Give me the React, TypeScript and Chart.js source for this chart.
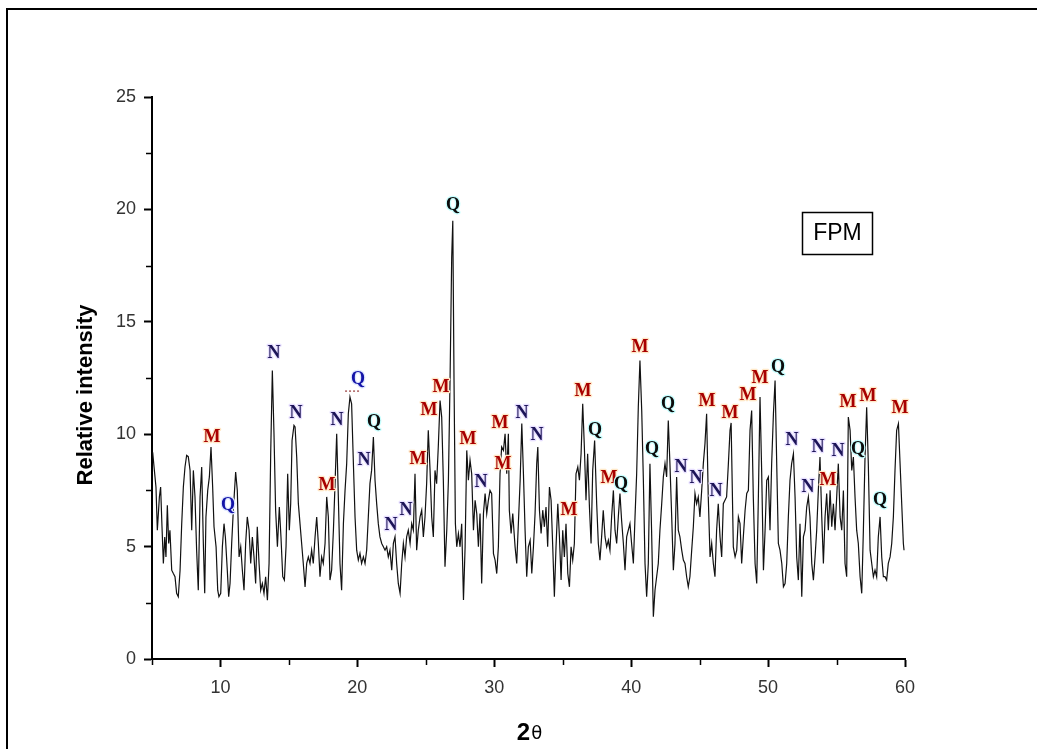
import React, { useEffect, useRef } from "react";
import { Chart, registerables } from "chart.js";

Chart.register(...registerables);

// 2θ positions (degrees)
const twoTheta = [
  5.05, 5.15, 5.29, 5.39, 5.54, 5.63, 5.73, 5.83, 5.93, 6.02, 6.12, 6.22, 6.31, 6.44, 6.56, 6.68, 6.8, 6.92, 7.05, 7.17,
  7.29, 7.41, 7.53, 7.65, 7.78, 7.9, 8.02, 8.14, 8.26, 8.38, 8.51, 8.63, 8.75, 8.85, 8.94, 9.07, 9.19, 9.31, 9.43, 9.53,
  9.68, 9.8, 9.89, 10.02, 10.14, 10.26, 10.36, 10.5, 10.6, 10.7, 10.82, 10.94, 11.11, 11.23, 11.36, 11.48, 11.6, 11.72, 11.84, 11.96,
  12.09, 12.21, 12.33, 12.45, 12.57, 12.69, 12.82, 12.94, 13.06, 13.18, 13.3, 13.43, 13.55, 13.67, 13.79, 13.91, 14.03, 14.16, 14.3, 14.42,
  14.55, 14.67, 14.79, 14.91, 15.03, 15.13, 15.23, 15.37, 15.45, 15.57, 15.69, 15.81, 15.93, 16.05, 16.18, 16.3, 16.42, 16.54, 16.66, 16.78,
  16.91, 17.03, 17.15, 17.27, 17.39, 17.51, 17.64, 17.76, 17.88, 18.0, 18.12, 18.25, 18.37, 18.49, 18.61, 18.73, 18.85, 18.98, 19.1, 19.22,
  19.34, 19.46, 19.58, 19.71, 19.83, 19.95, 20.07, 20.19, 20.31, 20.44, 20.56, 20.68, 20.8, 20.92, 21.04, 21.17, 21.29, 21.41, 21.53, 21.65,
  21.78, 21.9, 22.02, 22.14, 22.26, 22.38, 22.51, 22.63, 22.75, 22.87, 22.99, 23.12, 23.24, 23.36, 23.48, 23.6, 23.72, 23.85, 23.97, 24.09,
  24.21, 24.33, 24.45, 24.58, 24.7, 24.82, 24.94, 25.06, 25.18, 25.31, 25.43, 25.55, 25.67, 25.79, 25.91, 26.04, 26.16, 26.28, 26.4, 26.53,
  26.65, 26.77, 26.89, 26.97, 27.06, 27.16, 27.26, 27.38, 27.5, 27.62, 27.75, 27.87, 27.99, 28.11, 28.23, 28.35, 28.48, 28.6, 28.72, 28.84,
  28.96, 29.08, 29.21, 29.33, 29.45, 29.57, 29.69, 29.81, 29.94, 30.06, 30.18, 30.3, 30.42, 30.54, 30.67, 30.79, 30.91, 31.03, 31.1, 31.23,
  31.35, 31.52, 31.64, 31.79, 31.89, 32.01, 32.13, 32.25, 32.37, 32.49, 32.62, 32.74, 32.86, 32.98, 33.1, 33.18, 33.3, 33.42, 33.54, 33.66,
  33.78, 33.9, 34.03, 34.15, 34.27, 34.39, 34.51, 34.64, 34.76, 34.88, 35.0, 35.12, 35.24, 35.37, 35.49, 35.61, 35.73, 35.85, 35.97, 36.1,
  36.22, 36.34, 36.46, 36.58, 36.7, 36.82, 36.95, 37.07, 37.19, 37.33, 37.48, 37.6, 37.72, 37.84, 37.96, 38.09, 38.21, 38.33, 38.45, 38.57,
  38.7, 38.82, 38.94, 39.06, 39.18, 39.3, 39.43, 39.55, 39.67, 39.79, 39.91, 40.03, 40.16, 40.28, 40.4, 40.52, 40.64, 40.77, 40.89, 41.01,
  41.13, 41.25, 41.37, 41.49, 41.62, 41.74, 41.86, 41.98, 42.1, 42.23, 42.35, 42.47, 42.59, 42.71, 42.83, 42.96, 43.08, 43.2, 43.32, 43.44,
  43.56, 43.69, 43.81, 43.93, 44.05, 44.17, 44.29, 44.42, 44.54, 44.66, 44.78, 44.9, 45.02, 45.15, 45.27, 45.39, 45.51, 45.63, 45.76, 45.88,
  46.0, 46.12, 46.24, 46.36, 46.49, 46.61, 46.73, 46.85, 46.97, 47.1, 47.22, 47.3, 47.46, 47.59, 47.71, 47.83, 47.95, 48.07, 48.19, 48.32,
  48.44, 48.56, 48.68, 48.8, 48.92, 49.05, 49.17, 49.29, 49.41, 49.53, 49.66, 49.78, 49.9, 50.02, 50.14, 50.26, 50.39, 50.51, 50.63, 50.75,
  50.87, 51.0, 51.12, 51.24, 51.36, 51.48, 51.6, 51.72, 51.85, 51.97, 52.09, 52.21, 52.33, 52.46, 52.58, 52.7, 52.82, 52.94, 53.06, 53.19,
  53.31, 53.43, 53.55, 53.67, 53.79, 53.92, 54.04, 54.16, 54.28, 54.4, 54.53, 54.65, 54.77, 54.89, 55.01, 55.13, 55.26, 55.38, 55.5, 55.62,
  55.74, 55.86, 55.99, 56.11, 56.23, 56.35, 56.47, 56.59, 56.72, 56.84, 56.96, 57.08, 57.2, 57.32, 57.45, 57.57, 57.69, 57.81, 57.93, 58.05,
  58.18, 58.3, 58.42, 58.54, 58.66, 58.78, 58.91, 59.03, 59.15, 59.27, 59.39, 59.52, 59.64, 59.76, 59.88, 59.93,
];

// relative intensity
const intensity = [
  9.2, 8.54, 7.65, 5.73, 7.21, 7.65, 5.88, 4.25, 5.43, 4.54, 6.84, 5.14, 5.73, 3.95, 3.8, 3.66, 2.92, 2.77, 3.95, 6.02,
  7.65, 8.54, 9.06, 9.0, 8.39, 5.73, 8.39, 7.21, 4.84, 3.06, 7.21, 8.54, 5.14, 2.92, 6.32, 7.5, 8.1, 9.43, 7.65, 5.88,
  4.99, 3.06, 2.77, 2.92, 4.99, 6.02, 5.43, 3.95, 2.77, 3.36, 5.14, 6.62, 8.32, 7.5, 4.54, 4.99, 3.95, 3.06, 5.14, 6.32,
  5.73, 4.25, 5.43, 4.54, 3.36, 5.88, 4.25, 3.06, 3.36, 2.92, 3.66, 2.62, 4.25, 9.13, 12.83, 10.02, 6.62, 4.99, 6.76, 5.43,
  3.66, 3.51, 4.99, 8.24, 5.73, 6.91, 9.72, 10.39, 10.32, 8.98, 6.91, 6.02, 5.14, 4.25, 3.21, 4.25, 4.54, 4.25, 4.84, 4.25,
  5.43, 6.32, 5.14, 3.66, 4.54, 4.25, 5.14, 7.21, 6.32, 3.51, 3.95, 5.73, 7.8, 10.02, 7.21, 4.25, 3.06, 6.02, 7.5, 8.69,
  10.91, 11.65, 11.35, 8.69, 6.32, 4.84, 4.4, 4.7, 4.25, 4.54, 4.25, 4.84, 6.32, 7.8, 8.39, 9.87, 7.95, 6.91, 6.02, 5.43,
  5.14, 4.99, 4.84, 4.99, 4.54, 4.84, 3.95, 5.14, 5.43, 4.25, 3.36, 2.92, 4.25, 5.14, 4.54, 5.43, 5.73, 5.14, 6.02, 5.73,
  8.24, 4.84, 5.73, 6.32, 6.62, 5.43, 6.32, 7.8, 10.17, 8.39, 6.32, 5.43, 8.39, 7.8, 9.43, 11.5, 10.76, 7.95, 4.1, 5.73,
  7.95, 12.39, 17.87, 19.49, 12.39, 6.02, 4.99, 5.58, 4.99, 6.02, 2.62, 4.99, 9.28, 7.95, 8.84, 8.24, 5.73, 7.06, 6.47, 4.99,
  6.47, 3.36, 6.47, 7.36, 6.47, 7.06, 7.5, 7.36, 4.69, 4.4, 3.8, 4.99, 8.24, 9.43, 9.28, 10.02, 8.24, 10.02, 6.62, 5.58,
  6.47, 4.99, 4.25, 6.47, 7.95, 10.47, 8.24, 5.73, 3.66, 4.99, 5.28, 3.8, 4.99, 6.47, 8.69, 9.43, 6.62, 5.58, 6.62, 5.88,
  6.76, 4.99, 7.65, 7.06, 4.99, 2.77, 4.99, 6.91, 5.43, 3.51, 5.73, 4.54, 6.02, 3.8, 3.21, 4.99, 4.4, 5.14, 8.24, 8.54,
  7.95, 9.13, 11.35, 9.43, 7.06, 9.13, 6.76, 5.14, 8.39, 9.72, 6.91, 5.14, 4.4, 5.43, 6.62, 5.43, 4.99, 5.28, 4.84, 6.32,
  7.5, 5.73, 5.14, 6.32, 7.36, 6.17, 5.14, 3.95, 5.43, 5.73, 6.02, 5.14, 4.25, 6.32, 8.24, 11.2, 13.28, 11.05, 7.95, 4.25,
  2.77, 4.25, 8.69, 5.73, 1.88, 3.06, 3.66, 4.25, 5.73, 6.91, 8.1, 8.69, 8.1, 10.61, 8.69, 6.32, 3.95, 5.14, 8.1, 5.73,
  5.43, 4.84, 4.4, 4.25, 3.66, 3.21, 3.66, 4.84, 5.88, 7.36, 6.91, 7.21, 6.32, 7.5, 8.69, 9.58, 10.91, 7.21, 4.54, 5.14,
  4.25, 3.66, 5.73, 6.91, 5.43, 4.54, 6.91, 7.06, 7.21, 8.69, 10.17, 10.5, 4.99, 4.54, 4.84, 6.32, 6.02, 4.25, 5.43, 6.62,
  7.36, 7.5, 10.17, 11.05, 7.21, 4.25, 3.36, 7.21, 11.65, 8.39, 3.95, 5.73, 7.95, 8.1, 5.73, 8.69, 10.91, 12.39, 8.69, 5.14,
  4.84, 4.25, 3.21, 3.36, 4.25, 6.32, 7.95, 8.69, 9.13, 7.21, 4.54, 3.51, 6.02, 2.77, 5.43, 5.73, 6.76, 7.21, 6.32, 4.25,
  3.51, 4.54, 5.73, 7.5, 8.98, 6.32, 4.25, 6.32, 7.36, 5.73, 7.5, 5.88, 6.91, 5.73, 7.21, 8.69, 6.32, 5.73, 7.5, 4.25,
  3.66, 10.76, 10.17, 8.39, 8.98, 7.21, 5.73, 5.14, 3.66, 2.92, 5.73, 8.98, 11.2, 8.69, 4.84, 4.25, 3.66, 3.95, 3.66, 5.43,
  6.32, 4.54, 3.66, 3.66, 3.51, 4.25, 4.54, 5.14, 6.32, 8.39, 10.17, 10.47, 8.69, 6.91, 5.14, 4.84,
];

const xMajorTicks = [10, 20, 30, 40, 50, 60];
const xMinorTicks = [5, 15, 25, 35, 45, 55];
const yMinorTicks = [2.5, 7.5, 12.5, 17.5, 22.5];

// phase labels: M, N, Q (Qb = blue Q)
const peakText = [
  "M", "Q", "N", "N", "M", "N", "Q", "N", "Q", "N", "N", "M", "M", "M", "Q", "M", "N", "M", "M", "N", "N", "M", "M", "Q",
  "M", "Q", "M", "Q", "Q", "N", "N", "M", "N", "M", "M", "M", "Q", "N", "N", "N", "M", "N", "M", "Q", "M", "Q", "M",
];
const peakTone = [
  "M", "Qb", "N", "N", "M", "N", "Qb", "N", "Q", "N", "N", "M", "M", "M", "Q", "M", "N", "M", "M", "N", "N", "M", "M", "Q",
  "M", "Q", "M", "Q", "Q", "N", "N", "M", "N", "M", "M", "M", "Q", "N", "N", "N", "M", "N", "M", "Q", "M", "Q", "M",
];
const peakX = [
  9.38, 10.55, 13.91, 15.52, 17.78, 18.51, 20.05, 20.49, 21.22, 22.46, 23.55, 24.43, 25.23, 26.11, 26.99, 28.08, 29.03, 30.42,
  30.64, 32.03, 33.12, 35.46, 36.48, 37.36, 38.38, 39.26, 40.65, 41.52, 42.69, 43.64, 44.74, 45.54, 46.2, 47.22, 48.54, 49.41,
  50.73, 51.75, 52.92, 53.65, 54.38, 55.11, 55.84, 56.57, 57.3, 58.18, 59.64,
];
const peakY = [
  9.86, 6.84, 13.59, 10.92, 7.73, 10.61, 12.43, 8.84, 10.52, 5.95, 6.62, 8.88, 11.06, 12.08, 20.16, 9.77, 7.86, 10.48,
  8.66, 10.92, 9.95, 6.62, 11.9, 10.17, 8.04, 7.77, 13.85, 9.33, 11.32, 8.53, 8.04, 11.46, 7.46, 10.92, 11.72, 12.48,
  12.97, 9.72, 7.64, 9.41, 7.95, 9.24, 11.41, 9.33, 11.68, 7.06, 11.15,
];
const underlinedPeak = 6;

const toneColor: Record<string, string> = { M: "#a80000", N: "#1c1458", Q: "#0c0c0c", Qb: "#1414a8" };
const toneHalo: Record<string, string> = { M: "#ffe8c8", N: "#e8e0ff", Q: "#c8ffff", Qb: "#e0e8ff" };

export default function App() {
  const ref = useRef<HTMLCanvasElement>(null);

  useEffect(() => {
    document.body.style.margin = "0";
    const canvas = ref.current!;
    const overlay = {
      id: "overlay",
      afterDraw(chart: any) {
        const ctx = chart.ctx as CanvasRenderingContext2D;
        const xs = chart.scales.x;
        const ys = chart.scales.y;
        const area = chart.chartArea;
        ctx.save();
        // outer frame
        ctx.strokeStyle = "#000";
        ctx.lineWidth = 2;
        ctx.beginPath();
        ctx.moveTo(7, 760);
        ctx.lineTo(7, 9);
        ctx.lineTo(1050, 9);
        ctx.stroke();

        // minor ticks
        ctx.lineWidth = 1.5;
        ctx.beginPath();
        xMinorTicks.forEach((v) => {
          const px = Math.round(xs.getPixelForValue(v)) + 0.5;
          ctx.moveTo(px, area.bottom);
          ctx.lineTo(px, area.bottom + 6);
        });
        yMinorTicks.forEach((v) => {
          const py = Math.round(ys.getPixelForValue(v)) + 0.5;
          ctx.moveTo(area.left, py);
          ctx.lineTo(area.left - 6, py);
        });
        ctx.stroke();

        // axis titles
        ctx.fillStyle = "#000";
        ctx.save();
        ctx.translate(86, 395);
        ctx.rotate(-Math.PI / 2);
        ctx.font = "bold 22px 'Liberation Sans', Arial, sans-serif";
        ctx.textAlign = "center";
        ctx.textBaseline = "middle";
        ctx.fillText("Relative intensity", 0, 0);
        ctx.restore();

        ctx.textBaseline = "alphabetic";
        ctx.textAlign = "left";
        ctx.font = "bold 24px 'Liberation Sans', Arial, sans-serif";
        const w2 = ctx.measureText("2").width;
        ctx.font = "18px 'DejaVu Sans', 'Liberation Serif', serif";
        const wt = ctx.measureText("θ").width;
        const sx = 529 - (w2 + wt) / 2;
        ctx.font = "bold 24px 'Liberation Sans', Arial, sans-serif";
        ctx.fillText("2", sx, 740);
        ctx.font = "18px 'DejaVu Sans', 'Liberation Serif', serif";
        ctx.fillText("θ", sx + w2 + 1, 739);

        // FPM box
        ctx.lineWidth = 1.5;
        ctx.strokeRect(802.5, 212.5, 70, 42);
        ctx.font = "23px 'Liberation Sans', Arial, sans-serif";
        ctx.textAlign = "center";
        ctx.textBaseline = "middle";
        ctx.fillText("FPM", 837.5, 234);

        // phase labels
        ctx.font = "bold 18px 'Liberation Serif', 'Times New Roman', serif";
        ctx.lineJoin = "round";
        peakText.forEach((t, i) => {
          const px = xs.getPixelForValue(peakX[i]);
          const py = ys.getPixelForValue(peakY[i]);
          const tone = peakTone[i];
          ctx.strokeStyle = toneHalo[tone];
          ctx.lineWidth = 2.5;
          ctx.strokeText(t, px, py);
          ctx.fillStyle = toneColor[tone];
          ctx.fillText(t, px, py);
          if (i === underlinedPeak) {
            ctx.save();
            ctx.strokeStyle = "#801010";
            ctx.lineWidth = 1;
            ctx.setLineDash([2, 2]);
            ctx.beginPath();
            ctx.moveTo(px - 13, py + 11.5);
            ctx.lineTo(px + 3, py + 11.5);
            ctx.stroke();
            ctx.restore();
          }
        });
        ctx.restore();
      },
    };

    const chart = new Chart(canvas, {
      type: "line",
      data: {
        datasets: [
          {
            data: twoTheta.map((x, i) => ({ x, y: intensity[i] })),
            borderColor: "#111",
            borderWidth: 1.2,
            pointRadius: 0,
            tension: 0,
            fill: false,
          },
        ],
      },
      options: {
        responsive: false,
        animation: false,
        events: [],
        layout: { padding: { left: 0, top: 97, right: 132, bottom: 0 } },
        plugins: { legend: { display: false }, tooltip: { enabled: false }, title: { display: false } },
        scales: {
          x: {
            type: "linear",
            min: 5,
            max: 60,
            afterBuildTicks: (scale: any) => {
              scale.ticks = xMajorTicks.map((v) => ({ value: v }));
            },
            afterFit: (scale: any) => {
              scale.height = 90;
            },
            border: { display: true, color: "#000", width: 2 },
            grid: { display: true, drawOnChartArea: false, drawTicks: true, tickLength: 8, tickColor: "#000", tickWidth: 2, color: "#000" },
            ticks: {
              autoSkip: false,
              maxRotation: 0,
              padding: 10,
              color: "#333",
              font: { family: "'Liberation Sans', Arial, sans-serif", size: 18 },
            },
          },
          y: {
            min: 0,
            max: 25,
            afterFit: (scale: any) => {
              scale.width = 152;
            },
            border: { display: true, color: "#000", width: 2 },
            grid: { display: true, drawOnChartArea: false, drawTicks: true, tickLength: 8, tickColor: "#000", tickWidth: 2, color: "#000" },
            ticks: {
              stepSize: 5,
              padding: 8,
              color: "#333",
              font: { family: "'Liberation Sans', Arial, sans-serif", size: 18 },
            },
          },
        },
      },
      plugins: [overlay],
    });
    return () => chart.destroy();
  }, []);

  return (
    <div style={{ position: "absolute", left: 0, top: 0, width: 1037, height: 749, background: "#fff", overflow: "hidden" }}>
      <canvas ref={ref} width={1037} height={749} style={{ display: "block" }} />
    </div>
  );
}
